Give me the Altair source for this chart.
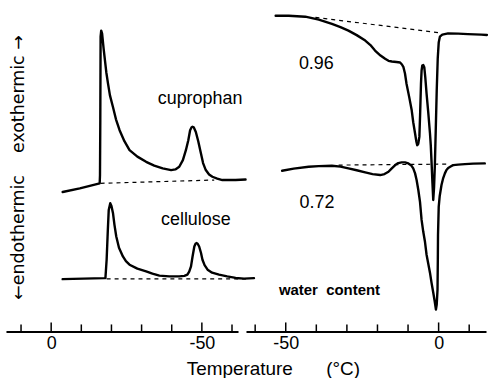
import altair as alt
import pandas as pd

FONT = "Liberation Sans"
NB = "\u00a0"

# ---------------- left panel (cooling) ----------------
cupro_T = [-3.8, -9.5, -16.1, -16.2, -16.3, -16.4, -16.6, -16.9, -17.4, -18.3, -18.9, -19.5, -20.5, -21.5,
           -22.7, -24.3, -26.0, -28.6, -31.5, -34.2, -37.0, -39.8, -41.2, -42.5, -43.7, -44.7, -45.5, -46.1,
           -46.6, -46.9, -47.3, -48.0, -48.8, -49.7, -50.4, -51.3, -52.4, -53.5, -55.1, -56.8, -61.2, -64.5]
cupro_q = [140, 143.7, 148.7, 157, 212, 296, 302, 299, 284, 260, 248, 237, 225.3, 213,
           202, 191, 182, 175.5, 170.3, 166.5, 163.7, 162, 162.7, 165.3, 172, 182, 192, 202,
           205, 205.5, 205, 200.3, 191, 178.7, 169, 162, 157.5, 155.3, 153.5, 152, 152, 152.5]
cupro_base_T = [-16.4, -54.1]
cupro_base_q = [148.7, 152]

cell_T = [-3.8, -17.7, -18.0, -18.4, -18.8, -19.1, -19.6, -20.0, -20.5, -21.0, -21.6, -22.5, -23.8, -24.8,
          -26.0, -28.6, -31.5, -33.6, -35.9, -39.2, -42.5, -44.2, -45.2, -45.8, -46.4, -46.9, -47.5, -47.9,
          -48.2, -48.6, -49.1, -49.7, -50.2, -50.9, -51.9, -53.4, -55.7, -58.4, -61.2, -64.0, -67.3]
cell_q = [52.5, 53.5, 53.5, 72, 102, 122, 128.7, 126, 119, 107, 95.3, 84, 75.3, 70.5,
          67, 63, 60.3, 58, 56, 55.3, 55.3, 55.8, 57, 60, 65.3, 75, 85.3, 88,
          88.7, 88, 85.3, 79, 72, 66.5, 62, 59, 57, 55.2, 53.7, 53, 53.5]
cell_base_T = [-18.4, -65.6]
cell_base_q = [52.7, 52.7]

left_ticks_T = [10, 0, -10, -20, -30, -40, -50, -60]
left_ticks_len = [7, 9, 7, 7, 7, 7, 9, 7]

left_labels = ["cuprophan", "cellulose"]
left_labels_T = [-49.4, -48.0]
left_labels_q = [233.7, 112]

# ---------------- right panel (heating) ----------------
w96_T = [-53.3, -49.0, -43.6, -39.2, -34.9, -32.1, -29.5, -26.8, -24.0, -22.3, -20.8, -19.0, -17.5, -16.4,
         -15.3, -13.8, -12.6, -12.0, -11.5, -11.0, -10.5, -9.6, -8.8, -8.3, -7.7, -7.3, -7.0, -6.65,
         -6.3, -6.06, -5.77, -5.57, -5.34, -5.02, -4.69, -4.36, -3.94, -3.39, -2.83, -2.57, -2.31, -2.02,
         -1.76, -1.50, -1.24, -0.94, -0.62, -0.29, 0.03, 0.42, 1.2, 3.1, 6.4, 9.6, 13.9, 15.8]
w96_q = [317, 317, 316, 313, 308.7, 305.5, 302, 297.5, 292, 287.5, 282, 277, 273.7, 271.7,
         271, 270.5, 270, 268, 265.3, 259, 248.7, 235, 222, 210, 198.7, 191, 187, 188.5,
         195.3, 217, 248.7, 262, 267, 267.5, 265.3, 255, 238.7, 220, 199, 187, 170, 149,
         132, 144, 166, 202, 242, 274, 290, 296, 298, 299.3, 299, 298.5, 298, 297.7]
w96_base_T = [-40.3, 0.85]
w96_base_q = [315.3, 299.7]

w72_T = [-51.2, -47.4, -42.5, -39.2, -34.9, -32.1, -29.5, -26.8, -24.0, -21.6, -19.1, -17.7, -16.4, -15.4,
         -14.2, -13.2, -12.1, -11.0, -9.9, -8.9, -8.3, -7.7, -7.2, -6.64, -6.09, -5.57, -5.02, -4.46,
         -3.94, -2.83, -2.31, -1.76, -1.27, -0.88, -0.62, -0.36, -0.26, -0.20, 0.03, 0.36, 0.94, 1.5,
         2.05, 2.57, 3.13, 4.2, 4.76, 6.4, 8.6, 11.3, 15.1]
w72_q = [161.3, 163.5, 165.3, 166, 166.3, 165.5, 163.7, 161.8, 159.7, 158, 157, 158, 160.3, 163.5,
         167, 169, 169.7, 169.7, 168.7, 166.5, 163.7, 158.7, 152, 142, 130, 112, 100, 90,
         77, 59, 48.7, 39, 30, 22, 27, 42, 72, 97, 125, 136, 147, 154,
         158.7, 162, 164, 166, 167, 167.5, 168, 168.5, 168.7]
w72_base_T = [-32.7, 3.1]
w72_base_q = [167, 168]

right_ticks_T = [-60, -50, -40, -30, -20, -10, 0, 10]
right_ticks_len = [7, 9, 7, 7, 7, 7, 9, 7]

right_labels = ["0.96", "0.72"]
right_labels_T = [-40.0, -39.8]
right_labels_q = [268.7, 128.7]
note_label = ["water" + NB + NB + "content"]
note_T = [-35.7]
note_q = [42]


def curves(pairs):
    rows = []
    for name, ts, qs in pairs:
        for i, (t, q) in enumerate(zip(ts, qs)):
            rows.append({"series": name, "i": i, "T": t, "q": q})
    return pd.DataFrame(rows)


def ticks(ts, lens):
    return pd.DataFrame({"T": ts, "q": [0] * len(ts), "q2": lens})


Y_SCALE = alt.Scale(domain=[0, 327], nice=False, zero=False)


def panel(curve_df, base_df, tick_df, label_df, xscale, xaxis, yaxis, note_df=None):
    X = alt.X("T:Q", scale=xscale, axis=xaxis)
    Y = alt.Y("q:Q", scale=Y_SCALE, axis=yaxis)
    lines = alt.Chart(curve_df).mark_line(
        color="black", strokeWidth=2.4, strokeJoin="round", strokeCap="round"
    ).encode(x=X, y=Y, detail="series:N", order="i:Q")
    base = alt.Chart(base_df).mark_line(
        color="black", strokeWidth=1.2, strokeDash=[4, 4]
    ).encode(x=X, y=Y, detail="series:N", order="i:Q")
    tk = alt.Chart(tick_df).mark_rule(color="black", strokeWidth=1.5).encode(
        x=X, y=Y, y2="q2:Q")
    txt = alt.Chart(label_df).mark_text(
        font=FONT, fontSize=18, color="black", align="center", baseline="middle"
    ).encode(x=X, y=Y, text="label:N")
    layers = [lines, base, tk, txt]
    if note_df is not None:
        layers.append(alt.Chart(note_df).mark_text(
            font=FONT, fontSize=15, fontWeight="bold", color="black",
            align="center", baseline="middle").encode(x=X, y=Y, text="label:N"))
    return alt.layer(*layers)


common_axis = dict(ticks=False, tickSize=0, grid=False, labelExpr="'' + datum.value",
                   labelFont=FONT, labelFontSize=18, labelColor="black", labelPadding=3,
                   domainColor="black", domainWidth=2, titleFont=FONT, titleFontSize=19,
                   titleFontWeight="normal", titleColor="black", titleAlign="left",
                   titleBaseline="alphabetic", titleY=43)

left_x = alt.Axis(values=[0, -50], title="Temperature", titleX=181, **common_axis)
right_x = alt.Axis(values=[-50, 0], title="(°C)", titleX=80, **common_axis)
left_y = alt.Axis(domain=False, ticks=False, labels=False, grid=False,
                  title="←endothermic" + NB * 4 + "exothermic" + NB + "→",
                  titleAngle=270, titleX=13, titleY=162,
                  titleAlign="center", titleBaseline="middle", titleFont="DejaVu Sans",
                  titleFontSize=17.5, titleFontWeight="normal", titleColor="black")

left = panel(
    curves([("cuprophan", cupro_T, cupro_q), ("cellulose", cell_T, cell_q)]),
    curves([("cupro_base", cupro_base_T, cupro_base_q), ("cell_base", cell_base_T, cell_base_q)]),
    ticks(left_ticks_T, left_ticks_len),
    pd.DataFrame({"label": left_labels, "T": left_labels_T, "q": left_labels_q}),
    alt.Scale(domain=[-62, 15], reverse=True, nice=False, zero=False),
    left_x, left_y,
).properties(width=233, height=327)

right = panel(
    curves([("0.96", w96_T, w96_q), ("0.72", w72_T, w72_q)]),
    curves([("b96", w96_base_T, w96_base_q), ("b72", w72_base_T, w72_base_q)]),
    ticks(right_ticks_T, right_ticks_len),
    pd.DataFrame({"label": right_labels, "T": right_labels_T, "q": right_labels_q}),
    alt.Scale(domain=[-63, 15.5], nice=False, zero=False),
    right_x, None,
    note_df=pd.DataFrame({"label": note_label, "T": note_T, "q": note_q}),
).properties(width=241, height=327)

chart = alt.hconcat(left, right, spacing=8, bounds="flush").properties(
    padding={"left": 6, "top": 5, "right": 0, "bottom": 0},
    background="white",
).configure_view(stroke=None)

chart.save("out.html", embed_options={"renderer": "svg", "actions": False})
